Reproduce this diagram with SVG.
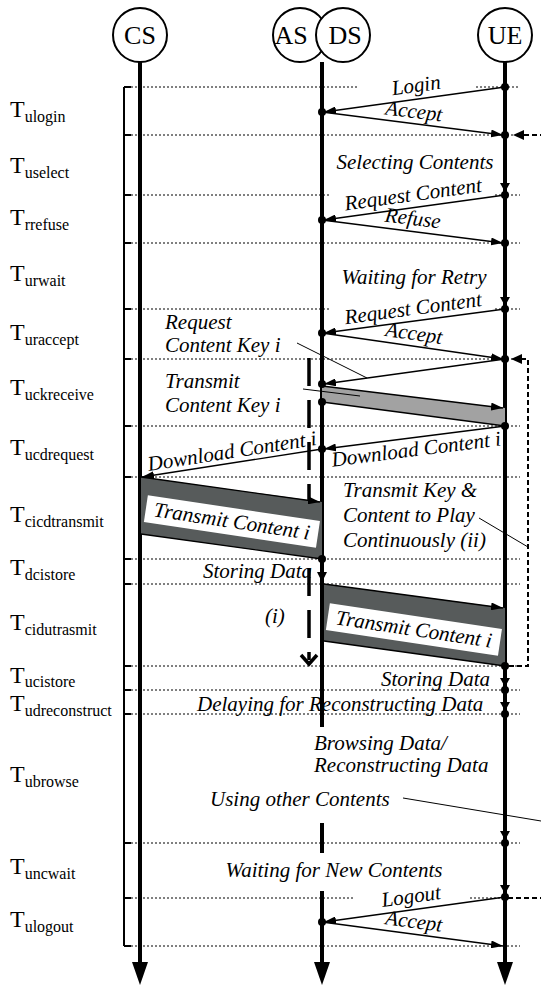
<svg xmlns="http://www.w3.org/2000/svg" width="541" height="990" viewBox="0 0 541 990">
  <defs>
    <marker id="arr" viewBox="0 0 12 8" refX="12" refY="4" markerWidth="12" markerHeight="8" markerUnits="userSpaceOnUse" orient="auto">
      <path d="M0,0 L12,4 L0,8 Z" fill="#000"/>
    </marker>
  </defs>
  <style>
    .ll { stroke:#000; stroke-width:4; fill:none }
    .tl { stroke:#000; stroke-width:1; stroke-dasharray:2 2; fill:none }
    .msg { stroke:#000; stroke-width:1.3; fill:none }
    .thin { stroke:#000; stroke-width:1; fill:none }
    .dsh { stroke:#000; stroke-width:2; stroke-dasharray:5 3; fill:none }
    .lbl { font-family:"Liberation Serif","Times New Roman",serif; font-style:italic; font-size:21px; fill:#000 }
    .tn { font-family:"Liberation Serif","Times New Roman",serif; font-size:24px; fill:#000 }
    .sub { font-size:16px }
    .node circle { fill:#fff; stroke:#000; stroke-width:2 }
    .node text { font-family:"Liberation Serif","Times New Roman",serif; font-size:26px; text-anchor:middle }
    .mid { text-anchor:middle }
    .end { text-anchor:end }
  </style>

  <!-- time slot bracket and phase boundaries -->
  <g id="timeline">
    <path class="thin" style="stroke-width:2" d="M124,87 V946 M124,87 H131 M124,135 H131 M124,195 H131 M124,243 H131 M124,309 H131 M124,359 H131 M124,426 H131 M124,477 H131 M124,559 H131 M124,584 H131 M124,666 H131 M124,690 H131 M124,714 H131 M124,843 H131 M124,898 H131 M124,946 H131"/>
    <path class="tl" d="M131,87 H357 M476,87 H520
      M131,135 H520
      M131,195 H330 M495,195 H520
      M131,243 H520
      M131,309 H330 M495,309 H520
      M131,359 H520
      M131,426 H520
      M131,477 H520
      M131,559 H520
      M131,584 H520
      M131,666 H520
      M131,690 H520
      M131,714 H520
      M131,843 H520
      M131,898 H355 M470,898 H505
      M131,946 H520"/>
  </g>

  <!-- phase labels -->
  <g id="phase-labels">
    <text class="tn" x="10" y="117">T<tspan class="sub" dy="5">ulogin</tspan></text>
    <text class="tn" x="10" y="173">T<tspan class="sub" dy="5">uselect</tspan></text>
    <text class="tn" x="10" y="225">T<tspan class="sub" dy="5">rrefuse</tspan></text>
    <text class="tn" x="10" y="281">T<tspan class="sub" dy="5">urwait</tspan></text>
    <text class="tn" x="10" y="340">T<tspan class="sub" dy="5">uraccept</tspan></text>
    <text class="tn" x="10" y="395">T<tspan class="sub" dy="5">uckreceive</tspan></text>
    <text class="tn" x="10" y="455">T<tspan class="sub" dy="5">ucdrequest</tspan></text>
    <text class="tn" x="10" y="522">T<tspan class="sub" dy="5">cicdtransmit</tspan></text>
    <text class="tn" x="10" y="575">T<tspan class="sub" dy="5">dcistore</tspan></text>
    <text class="tn" x="10" y="630">T<tspan class="sub" dy="5">cidutrasmit</tspan></text>
    <text class="tn" x="10" y="683">T<tspan class="sub" dy="4">ucistore</tspan></text>
    <text class="tn" x="10" y="711">T<tspan class="sub" dy="5">udreconstruct</tspan></text>
    <text class="tn" x="10" y="782">T<tspan class="sub" dy="5">ubrowse</tspan></text>
    <text class="tn" x="10" y="874">T<tspan class="sub" dy="5">uncwait</tspan></text>
    <text class="tn" x="10" y="927">T<tspan class="sub" dy="5">ulogout</tspan></text>
  </g>

  <!-- (i) dashed continuation marker -->
  <g id="marker-i">
    <path d="M309,358 V660" stroke="#000" stroke-width="3.5" stroke-dasharray="28 14" fill="none"/>
    <path d="M301,655 L309,664 L317,655" stroke="#000" stroke-width="3.5" fill="none"/>
    <text class="lbl" x="265" y="623">(i)</text>
  </g>

  <!-- lifelines -->
  <g id="lifelines">
    <path class="ll" d="M140,62 V963"/>
    <path d="M132,962 L148,962 L140,985 Z"/>
    <path class="ll" d="M322,62 V727 M322,823 V853 M322,891 V963"/>
    <path d="M314,962 L330,962 L322,985 Z"/>
    <path class="ll" d="M505,62 V963"/>
    <path d="M497,962 L513,962 L505,985 Z"/>
  </g>

  <g id="node-cs" class="node">
    <circle cx="140" cy="35" r="27"/>
    <text x="140" y="44">CS</text>
  </g>
  <g id="node-as" class="node">
    <circle cx="300" cy="35" r="27"/>
    <text x="291" y="44">AS</text>
  </g>
  <g id="node-ds" class="node">
    <circle cx="343" cy="35" r="27"/>
    <text x="345" y="44">DS</text>
  </g>
  <g id="node-ue" class="node">
    <circle cx="505" cy="35" r="27"/>
    <text x="505" y="44">UE</text>
  </g>

  <!-- messages -->
  <g id="connectors">
    <path class="msg" d="M505,87 L324,112" marker-end="url(#arr)"/>
    <path class="msg" d="M322,112 L503,135" marker-end="url(#arr)"/>
    <path class="msg" d="M505,195 L324,220" marker-end="url(#arr)"/>
    <path class="msg" d="M322,220 L503,243" marker-end="url(#arr)"/>
    <path class="msg" d="M505,309 L324,333" marker-end="url(#arr)"/>
    <path class="msg" d="M322,333 L503,359" marker-end="url(#arr)"/>
    <path class="msg" d="M505,359 L324,384" marker-end="url(#arr)"/>

    <!-- content key band -->
    <polygon points="322,386 505,408 505,426 322,402" fill="#a2a2a2"/>
    <path class="msg" d="M322,386 L503,408" marker-end="url(#arr)"/>
    <path class="msg" d="M322,402 L505,426"/>

    <path class="msg" d="M505,426 L324,449" marker-end="url(#arr)"/>
    <path class="msg" d="M322,449 L142,477" marker-end="url(#arr)"/>

    <!-- content band CS to DS -->
    <polygon points="141,477 322,502 322,559 141,534" fill="#575b5b"/>
    <path class="msg" d="M141,477 L320,502" marker-end="url(#arr)"/>
    <path class="msg" d="M141,534 L322,559"/>
    <g transform="translate(232,521) rotate(8.5)">
      <rect x="-87" y="-13" width="174" height="27" fill="#fff"/>
      <text class="lbl mid" x="0" y="7">Transmit Content i</text>
    </g>

    <!-- content band DS to UE -->
    <polygon points="324,584 505,608 505,666 324,641" fill="#575b5b"/>
    <path class="msg" d="M324,584 L503,608" marker-end="url(#arr)"/>
    <path class="msg" d="M324,641 L505,666"/>
    <g transform="translate(414,629) rotate(8.5)">
      <rect x="-87" y="-13" width="174" height="27" fill="#fff"/>
      <text class="lbl mid" x="0" y="7">Transmit Content i</text>
    </g>

    <path class="msg" d="M505,897 L324,922" marker-end="url(#arr)"/>
    <path class="msg" d="M322,922 L503,946" marker-end="url(#arr)"/>

    <!-- state arrows on lifelines -->
    <path d="M500,183 L510,183 L505,192 Z M500,297 L510,297 L505,306 Z M500,678 L510,678 L505,687 Z M500,702 L510,702 L505,711 Z M500,831 L510,831 L505,840 Z M500,885 L510,885 L505,894 Z M317,572 L327,572 L322,582 Z"/>

    <!-- dashed loop on the right -->
    <path class="dsh" d="M521,359 H528 V666 H508"/>
    <path d="M511,359 L522,354 L522,364 Z"/>
    <path d="M513,135 L524,130 L524,140 Z"/>
    <path class="dsh" d="M524,135 H541"/>
    <path class="dsh" d="M508,898 H541"/>

    <!-- leader lines -->
    <path class="thin" d="M297,343 L367,378"/>
    <path class="thin" d="M303,389 L360,396"/>
    <path class="thin" d="M479,518 L528,547"/>
    <path class="thin" d="M403,798 L541,821"/>

    <!-- event dots -->
    <g fill="#000">
      <circle cx="505" cy="87" r="4"/>
      <circle cx="322" cy="112" r="4"/>
      <circle cx="505" cy="135" r="4"/>
      <circle cx="505" cy="195" r="4"/>
      <circle cx="322" cy="220" r="4"/>
      <circle cx="505" cy="243" r="4"/>
      <circle cx="505" cy="309" r="4"/>
      <circle cx="322" cy="333" r="4"/>
      <circle cx="505" cy="359" r="4"/>
      <circle cx="322" cy="384" r="4"/>
      <circle cx="322" cy="402" r="4"/>
      <circle cx="505" cy="426" r="4"/>
      <circle cx="322" cy="449" r="4"/>
      <circle cx="322" cy="559" r="4"/>
      <circle cx="505" cy="666" r="4"/>
      <circle cx="505" cy="690" r="4"/>
      <circle cx="505" cy="714" r="4"/>
      <circle cx="505" cy="843" r="4"/>
      <circle cx="505" cy="897" r="4"/>
      <circle cx="322" cy="922" r="4"/>
    </g>
  </g>

  <!-- message and state labels -->
  <g id="labels">
    <text class="lbl mid" transform="translate(417,92) rotate(-7.8)">Login</text>
    <text class="lbl mid" transform="translate(413,118) rotate(7.2)">Accept</text>
    <text class="lbl mid" x="415" y="169">Selecting Contents</text>
    <text class="lbl mid" transform="translate(414,201) rotate(-7.8)">Request Content</text>
    <text class="lbl mid" transform="translate(412,225) rotate(7.2)">Refuse</text>
    <text class="lbl mid" x="414" y="284">Waiting for Retry</text>
    <text class="lbl mid" transform="translate(414,315) rotate(-7.6)">Request Content</text>
    <text class="lbl mid" transform="translate(413,340) rotate(8.2)">Accept</text>
    <text class="lbl" x="165" y="329">Request</text>
    <text class="lbl" x="165" y="352">Content Key i</text>
    <text class="lbl" x="165" y="388">Transmit</text>
    <text class="lbl" x="165" y="412">Content Key i</text>
    <text class="lbl mid" transform="translate(417,456) rotate(-7.2)">Download Content i</text>
    <text class="lbl mid" transform="translate(233,458) rotate(-8.8)">Download Content i</text>
    <text class="lbl" x="343" y="497">Transmit Key &amp;</text>
    <text class="lbl" x="343" y="522">Content to Play</text>
    <text class="lbl" x="343" y="547">Continuously (ii)</text>
    <text class="lbl end" x="312" y="578">Storing Data</text>
    <text class="lbl end" x="490" y="686">Storing Data</text>
    <text class="lbl" x="197" y="711">Delaying  for Reconstructing Data</text>
    <text class="lbl" x="314" y="750">Browsing Data/</text>
    <text class="lbl" x="314" y="772">Reconstructing Data</text>
    <text class="lbl" x="210" y="806">Using other Contents</text>
    <text class="lbl mid" x="334" y="877">Waiting for New Contents</text>
    <text class="lbl mid" transform="translate(412,903) rotate(-7.8)">Logout</text>
    <text class="lbl mid" transform="translate(413,928) rotate(7.5)">Accept</text>
  </g>
</svg>
